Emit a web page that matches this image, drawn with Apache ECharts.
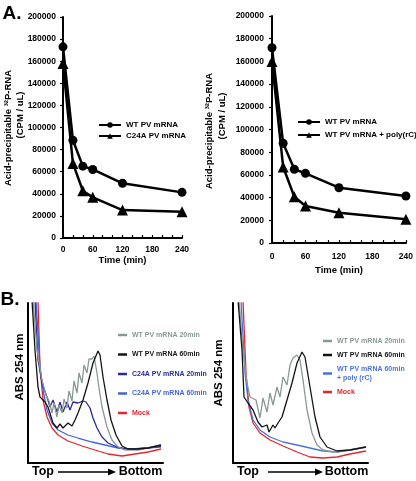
<!DOCTYPE html>
<html><head><meta charset="utf-8">
<script src="https://cdn.jsdelivr.net/npm/echarts@6/dist/echarts.min.js"></script>
<style>html,body{margin:0;padding:0;background:#fff}#c{width:416px;height:481px}</style>
</head><body><div id="c"></div>
<script>
// ---- Panel A data (time in min, acid-precipitable 32P-RNA in CPM/uL) ----
const timeMin = [0, 20, 40, 60, 120, 240];
const wtDecayLeft = [173000, 88500, 65000, 62000, 49500, 41300];
const c24aDecay = [158000, 67500, 42800, 36800, 25300, 23800];
const wtDecayRight = [172000, 87800, 65000, 61400, 48700, 41400];
const polyRcDecay = [160000, 67000, 40800, 32600, 26700, 20900];
const yTicksA = [0, 20000, 40000, 60000, 80000, 100000, 120000, 140000, 160000, 180000, 200000];
const xLabelsA = [0, 60, 120, 180, 240];

// ---- Panel B sucrose-gradient profiles [position Top->Bottom, ABS 254 nm (arb.)] ----
const wt20Left = [[5,163],[9,113],[14,83],[18,68],[21,62],[24,50],[26,60],[29,46],[31,58],[34,50],[36,64],[39,55],[41,72],[44,62],[46,82],[49,70],[51,90],[54,80],[56,98],[59,90],[61,104],[64,104],[66,107],[69,90],[71,75],[74,56],[79,36],[84,23],[90,16],[97,13],[110,13],[120,15],[133,18]];
const wt60Left = [[4,163],[7,113],[10,76],[12,66],[17,61],[20,56],[25,40],[29,35],[32,39],[35,35],[40,40],[44,37],[47,43],[50,50],[55,63],[60,80],[65,100],[70,112],[72,108],[75,86],[79,63],[83,43],[88,28],[94,17],[100,14],[110,14],[120,15],[133,18]];
const c24a20Left = [[7,163],[10,103],[14,80],[16,74],[19,66],[22,56],[25,63],[29,51],[32,61],[35,51],[39,61],[42,53],[45,61],[50,60],[55,62],[58,61],[62,55],[65,45],[69,35],[74,26],[80,20],[89,16],[97,14],[107,14],[120,15],[133,17]];
const c24a60Left = [[8,163],[12,96],[15,73],[19,53],[24,40],[30,33],[40,28],[50,25],[64,21],[77,18],[90,15],[104,14],[117,15],[133,16]];
const mockLeft = [[10,163],[12,96],[15,63],[19,46],[24,35],[30,28],[40,22],[54,17],[67,13],[80,9],[94,7],[107,9],[120,11],[133,14]];
const wt20Right = [[6,163],[10,113],[14,80],[17,66],[19,68],[23,63],[27,45],[30,65],[34,51],[37,70],[40,58],[44,76],[47,66],[50,86],[54,78],[57,98],[60,105],[64,108],[67,103],[70,83],[74,53],[79,30],[84,18],[90,13],[100,11],[117,13],[133,16]];
const wt60Right = [[5,163],[9,113],[11,66],[15,60],[20,53],[25,41],[29,36],[34,38],[36,31],[40,38],[42,35],[45,40],[49,46],[54,63],[59,80],[64,100],[69,111],[72,106],[77,76],[82,46],[87,26],[94,16],[104,12],[117,13],[133,16]];
const polyRight = [[8,163],[12,90],[15,63],[20,43],[27,33],[37,26],[50,21],[64,18],[77,15],[90,12],[104,11],[117,13],[133,16]];
const mockRight = [[10,163],[13,90],[16,56],[20,40],[27,30],[37,23],[50,17],[64,11],[77,6],[90,5],[104,6],[117,9],[133,12]];

const F = '"Liberation Sans", Arial, sans-serif';
const C = {gray:'#8a9893', black:'#141414', dblue:'#2a2a9c', mblue:'#4264dd', rblue:'#4a73de', red:'#e5262e'};

function xA(idx, margin, gap){
  return {type:'value', gridIndex:idx, min:0, max:240, interval:20,
    axisLine:{lineStyle:{color:'#000', width:2}},
    axisTick:{inside:true, length:3, lineStyle:{color:'#000', width:1.2}},
    axisLabel:{interval:0, margin:margin, fontFamily:F, fontWeight:'bold', fontSize:8.5, color:'#000',
      formatter: v => xLabelsA.includes(v) ? String(v) : ''},
    splitLine:{show:false},
    name:'Time (min)', nameLocation:'middle', nameGap:gap,
    nameTextStyle:{fontFamily:F, fontWeight:'bold', fontSize:9.5, color:'#000'}};
}
function yA(idx, margin){
  return {type:'value', gridIndex:idx, min:yTicksA[0], max:yTicksA[yTicksA.length-1], interval:20000,
    axisLine:{show:true, lineStyle:{color:'#000', width:2}},
    axisTick:{show:true, length:3, lineStyle:{color:'#000', width:1.2}},
    axisLabel:{margin:margin, fontFamily:F, fontWeight:'bold', fontSize:8.5, color:'#000',
      formatter: v => String(v)},
    splitLine:{show:false}};
}
function xB(idx){
  return {type:'value', gridIndex:idx, min:0, max:135,
    axisLine:{lineStyle:{color:'#000', width:2}}, axisTick:{show:false}, axisLabel:{show:false}, splitLine:{show:false}};
}
function yB(idx){
  return {type:'value', gridIndex:idx, min:0, max:160,
    axisLine:{show:true, lineStyle:{color:'#000', width:2}}, axisTick:{show:false}, axisLabel:{show:false}, splitLine:{show:false}};
}
function decay(name, idx, ys, symbol, size){
  return {type:'line', name:name, xAxisIndex:idx, yAxisIndex:idx,
    data: timeMin.map((t,i)=>[t, ys[i]]), symbol:symbol, symbolSize:size,
    itemStyle:{color:'#000'}, lineStyle:{color:'#000', width:2.5}};
}
function prof(name, idx, d, color){
  return {type:'line', name:name, xAxisIndex:idx, yAxisIndex:idx, data:d, showSymbol:false,
    symbol:'none', color:color, lineStyle:{color:color, width:1.3}, clip:true};
}
function txt(x, y, t, size, rot, color){
  return {type:'text', x:x, y:y, rotation:rot||0,
    style:{text:t, fontFamily:F, fontWeight:'bold', fontSize:size, fill:color||'#000', align:'center', verticalAlign:'middle'}};
}
function arrow(x1, x2, y){
  return [
    {type:'line', shape:{x1:x1, y1:y, x2:x2-6, y2:y}, style:{stroke:'#000', lineWidth:1.5}},
    {type:'polygon', shape:{points:[[x2-8,y-3.5],[x2,y],[x2-8,y+3.5]]}, style:{fill:'#000'}}
  ];
}
const legTxt = {fontFamily:F, fontWeight:'bold', fontSize:8, color:'#000', lineHeight:10};
const legTxtB = {fontFamily:F, fontWeight:'bold', fontSize:7, lineHeight:9};

const option = {
  animation:false,
  backgroundColor:'#fff',
  grid:[
    {left:63, top:17, width:119, height:221},
    {left:272, top:16, width:136, height:227},
    {left:28, top:303, width:135, height:160},
    {left:233, top:303, width:135, height:160}
  ],
  xAxis:[xA(0, 7, 16), xA(1, 9, 22), xB(2), xB(3)],
  yAxis:[yA(0, 7), yA(1, 8), yB(2), yB(3)],
  legend:[
    {left:93, top:115, orient:'vertical', itemWidth:22, itemHeight:7, itemGap:1,
      data:['WT PV mRNA','C24A PV mRNA'], textStyle:legTxt},
    {left:292, top:112, orient:'vertical', itemWidth:22, itemHeight:7, itemGap:3,
      data:['WT PV mRNA ','WT PV mRNA + poly(rC)'], textStyle:legTxt},
    {left:113, top:325.5, orient:'vertical', icon:'rect', itemWidth:9, itemHeight:2.5, itemGap:10.5, textStyle:legTxtB,
      data:[{name:'WT PV mRNA 20min', textStyle:{color:C.gray}},
            {name:'WT PV mRNA 60min', textStyle:{color:C.black}},
            {name:'C24A PV mRNA 20min', textStyle:{color:C.dblue}},
            {name:'C24A PV mRNA 60min', textStyle:{color:C.mblue}},
            {name:'Mock', textStyle:{color:C.red}}]},
    {left:318, top:331.5, orient:'vertical', icon:'rect', itemWidth:9, itemHeight:2.5, itemGap:5, textStyle:legTxtB,
      data:[{name:'WT PV mRNA 20min ', textStyle:{color:C.gray}},
            {name:'WT PV mRNA 60min ', textStyle:{color:C.black}},
            {name:'WT PV mRNA 60min\n+ poly (rC)', textStyle:{color:C.rblue}},
            {name:'Mock ', textStyle:{color:C.red}}]}
  ],
  series:[
    decay('WT PV mRNA', 0, wtDecayLeft, 'circle', 9),
    decay('C24A PV mRNA', 0, c24aDecay, 'triangle', 11),
    decay('WT PV mRNA ', 1, wtDecayRight, 'circle', 9),
    decay('WT PV mRNA + poly(rC)', 1, polyRcDecay, 'triangle', 11),
    prof('Mock', 2, mockLeft, C.red),
    prof('C24A PV mRNA 60min', 2, c24a60Left, C.mblue),
    prof('C24A PV mRNA 20min', 2, c24a20Left, C.dblue),
    prof('WT PV mRNA 20min', 2, wt20Left, C.gray),
    prof('WT PV mRNA 60min', 2, wt60Left, C.black),
    prof('Mock ', 3, mockRight, C.red),
    prof('WT PV mRNA 60min\n+ poly (rC)', 3, polyRight, C.rblue),
    prof('WT PV mRNA 20min ', 3, wt20Right, C.gray),
    prof('WT PV mRNA 60min ', 3, wt60Right, C.black)
  ],
  graphic:[
    txt(12, 14, 'A.', 19),
    txt(10, 300, 'B.', 19),
    txt(8, 128, 'Acid-precipitable \u00b3\u00b2P-RNA', 9.5, Math.PI/2),
    txt(20, 115, '(CPM / uL)', 9.5, Math.PI/2),
    txt(209, 131, 'Acid-precipitable \u00b3\u00b2P-RNA', 9.5, Math.PI/2),
    txt(222, 116, '(CPM / uL)', 9.5, Math.PI/2),
    txt(20, 367, 'ABS 254 nm', 11.5, Math.PI/2),
    txt(219, 373, 'ABS 254 nm', 11.5, Math.PI/2),
    txt(43, 472, 'Top', 12.5),
    txt(140.5, 472, 'Bottom', 12.5),
    txt(248, 472, 'Top', 12.5),
    txt(346.5, 472, 'Bottom', 12.5)
  ].concat(arrow(58, 116, 472), arrow(268, 323, 472))
};
const chart = echarts.init(document.getElementById('c'));
chart.setOption(option);
</script>
</body></html>
